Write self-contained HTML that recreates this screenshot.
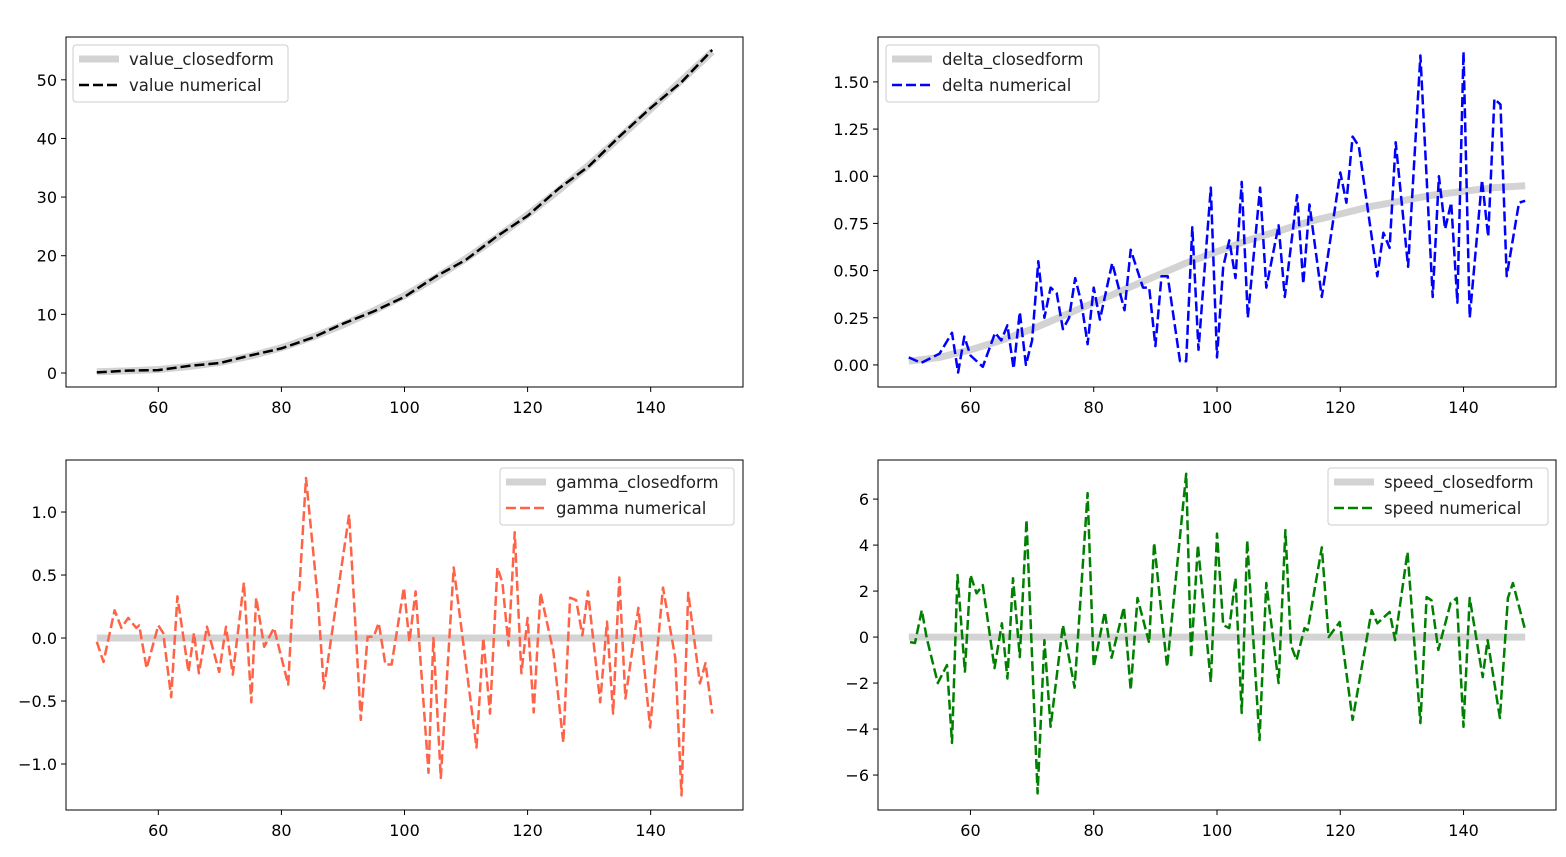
<!DOCTYPE html>
<html><head><meta charset="utf-8"><style>
body{margin:0;background:#fff;}
svg text{font-family:"DejaVu Sans","Liberation Sans",sans-serif;}
</style></head><body>
<svg id="fig" width="1566" height="852" xmlns="http://www.w3.org/2000/svg"></svg>
<script>
// ---------- data ----------
const valueX = [50,55,60,65,70,75,80,85,90,95,100,105,110,115,120,125,130,135,140,145,150];
const valueClosed = [0.2,0.35,0.6,1.1,1.8,2.9,4.3,6.1,8.2,10.6,13.2,16.2,19.5,23.1,27,31.1,35.5,40.2,45,49.9,54.8];
const valueNum = [0.1,0.4,0.5,1.2,1.7,3.0,4.2,6.0,8.4,10.5,13.0,16.4,19.3,23.3,26.8,31.4,35.3,40.4,45.2,49.6,55.1];

const deltaClosedX = [50,55,60,65,70,75,80,85,90,95,100,105,110,115,120,125,130,135,140,145,150];
const deltaClosed = [0.02,0.04,0.08,0.13,0.19,0.26,0.33,0.40,0.47,0.54,0.60,0.66,0.71,0.76,0.80,0.84,0.87,0.90,0.92,0.94,0.95];
const deltaX = [50,52,55,57,58,59,60,62,64,65,66,67,68,69,70,71,72,73,74,75,76,77,78,79,80,81,83,85,86,88,89,90,91,92,94,95,96,97,99,100,101,102,103,104,105,107,108,110,111,113,114,115,117,120,121,122,123,126,127,128,129,131,133,135,136,137,138,139,140,141,143,144,145,146,147,149,150];
const deltaNum = [0.04,0.01,0.06,0.17,-0.04,0.15,0.05,-0.01,0.17,0.13,0.21,-0.02,0.28,0.0,0.13,0.55,0.25,0.41,0.38,0.19,0.25,0.46,0.33,0.11,0.41,0.24,0.54,0.29,0.61,0.41,0.41,0.10,0.47,0.47,0.02,0.02,0.73,0.08,0.94,0.04,0.52,0.66,0.46,0.97,0.25,0.94,0.41,0.74,0.36,0.90,0.43,0.85,0.36,1.02,0.86,1.21,1.16,0.47,0.70,0.62,1.18,0.52,1.64,0.36,1.00,0.72,0.86,0.33,1.66,0.25,0.98,0.68,1.41,1.38,0.47,0.86,0.87];

const zeroX = [50,150];
const zeroY = [0,0];
const gammaX = [50,51.1,52.9,54,55.1,56.4,56.9,58.1,60,60.8,62.1,63.1,64.9,65.8,66.6,67.9,69.9,71,72.1,73.9,75.1,75.9,77.2,78.8,81.1,81.9,82.9,84,85.9,86.9,91,92.9,94,95,95.8,96.9,97.9,99.9,100.8,101.8,103.9,104.7,105.9,108,111.7,112.8,113.9,115.1,115.9,116.9,117.9,119,120,121,122.1,124.2,125.8,126.9,127.9,128.9,129.8,131.8,132.9,133.9,134.9,135.9,138,139.9,142,144,145,146.1,148,148.9,150];
const gammaNum = [-0.03,-0.19,0.22,0.08,0.16,0.08,0.10,-0.24,0.10,0.04,-0.47,0.33,-0.27,0.04,-0.28,0.09,-0.27,0.09,-0.29,0.44,-0.51,0.32,-0.07,0.08,-0.37,0.36,0.38,1.27,0.32,-0.40,0.98,-0.65,0.01,0.01,0.12,-0.21,-0.21,0.40,-0.03,0.37,-1.07,0.0,-1.11,0.56,-0.87,0.0,-0.60,0.56,0.44,-0.06,0.84,-0.28,0.16,-0.59,0.36,-0.11,-0.83,0.32,0.30,0.02,0.37,-0.51,0.13,-0.60,0.48,-0.48,0.24,-0.71,0.40,-0.16,-1.25,0.36,-0.36,-0.20,-0.60];

const speedX = [50.2,51,52.1,52.9,54.7,56.2,57,57.9,59.1,60,61,62,63.9,65.1,66,66.9,68,69.1,70.9,72,73,75,76.9,79,80,81.8,82.9,84.9,86,87.1,89,89.8,91.9,95,95.8,96.9,99,100,101,102,103,104,104.9,106.9,108,110,111.1,112,112.9,114.2,114.7,117,118.1,119.9,122,125.1,126,128,128.9,130.9,133,134,134.8,135.9,137.9,138.9,140,141,143.1,143.9,145.9,147.2,148,150];
const speedNum = [-0.22,-0.26,1.17,-0.04,-2.0,-1.22,-4.6,2.7,-1.5,2.7,1.9,2.26,-1.35,0.6,-1.8,2.56,-0.87,5.1,-6.8,-0.13,-3.9,0.52,-2.2,6.26,-1.3,1.09,-0.9,1.3,-2.3,1.7,-0.26,4.1,-1.3,7.1,-0.9,4.0,-1.96,4.5,0.52,0.39,2.56,-3.3,4.2,-4.48,2.35,-2.0,4.65,-0.35,-1.0,0.39,0.3,3.9,0.0,0.65,-3.6,1.17,0.6,1.09,-0.13,3.7,-3.74,1.74,1.6,-0.56,1.48,1.7,-3.9,1.7,-1.74,-0.13,-3.52,1.7,2.35,0.3];

const xTicks = [60,80,100,120,140];
const valueTicks = [0,10,20,30,40,50];
const deltaTicks = [0,0.25,0.5,0.75,1.0,1.25,1.5];
const gammaTicks = [-1.0,-0.5,0,0.5,1.0];
const speedTicks = [-6,-4,-2,0,2,4,6];

// ---------- drawing ----------
const NS='http://www.w3.org/2000/svg';
const svg=document.getElementById('fig');
function mk(tag,attrs,parent){const e=document.createElementNS(NS,tag);for(const k in attrs)e.setAttribute(k,attrs[k]);(parent||svg).appendChild(e);return e;}
function fmt(v,dec){let s=v.toFixed(dec);if(v<0)s='\u2212'+s.slice(1);return s;}

function panel(id,box,ylim,yt,dec,series,legend){
  const g=mk('g',{});
  
  
  const [L,T,R,B]=box;
  const sx=x=>L+(x-45)/110*(R-L);
  const sy=y=>B-(y-ylim[0])/(ylim[1]-ylim[0])*(B-T);
  const cp=mk('clipPath',{id:'clip-'+id},g);
  mk('rect',{x:L,y:T,width:R-L,height:B-T},cp);
  series.forEach(s=>{
    let d='';s.x.forEach((x,i)=>{d+=(i?'L':'M')+sx(x).toFixed(1)+','+sy(s.y[i]).toFixed(1);});
    const p=mk('path',{d:d,fill:'none',stroke:s.color,'stroke-width':s.w,'clip-path':'url(#clip-'+id+')','stroke-linejoin':'round'},g);
    if(s.dash)p.setAttribute('stroke-dasharray',s.dash);
    
    
  });
  const fr=mk('rect',{x:L,y:T,width:R-L,height:B-T,fill:'none',stroke:'#000','stroke-width':1},g);
  
  
  xTicks.forEach(t=>{
    const x=sx(t);
    mk('line',{x1:x,y1:B,x2:x,y2:B+5,stroke:'#000'},g);
    const tx=mk('text',{x:x,y:B+26,'font-size':16,'text-anchor':'middle',fill:'#000'},g);
    tx.textContent=String(t);
    
    
  });
  yt.forEach(t=>{
    const y=sy(t);
    mk('line',{x1:L-5,y1:y,x2:L,y2:y,stroke:'#000'},g);
    const tx=mk('text',{x:L-9,y:y+6,'font-size':16,'text-anchor':'end',fill:'#000'},g);
    tx.textContent=fmt(t,dec);
    
    
  });
  const [lx,ly,lw]=legend;
  const lg=mk('g',{},g);
  
  
  mk('rect',{x:lx,y:ly,width:lw,height:57,rx:3,fill:'#fff','fill-opacity':0.8,stroke:'#ccc'},lg);
  series.forEach((s,i)=>{
    const yy=ly+14+i*26;
    const l=mk('line',{x1:lx+6,y1:yy,x2:lx+46,y2:yy,stroke:s.color,'stroke-width':s.w},lg);
    if(s.dash)l.setAttribute('stroke-dasharray',s.dash);
    const tx=mk('text',{x:lx+56,y:yy+6,'font-size':16.5,fill:'#222'},lg);
    tx.textContent=s.label;
    
    
  });
}
const gray='#d3d3d3', dash='10,4';
panel('value',[66,37,743,387],[-2.39,57.3],valueTicks,0,[
  {x:valueX,y:valueClosed,color:gray,w:7,label:'value_closedform',name:'value-closedform-line'},
  {x:valueX,y:valueNum,color:'#000',w:2.5,dash:dash,label:'value numerical',name:'value-numerical-line'}],[73,45,215]);
panel('delta',[878,37,1556,387],[-0.117,1.738],deltaTicks,2,[
  {x:deltaClosedX,y:deltaClosed,color:gray,w:7,label:'delta_closedform',name:'delta-closedform-line'},
  {x:deltaX,y:deltaNum,color:'#0000ff',w:2.5,dash:dash,label:'delta numerical',name:'delta-numerical-line'}],[886,45,213]);
panel('gamma',[66,460,743,810],[-1.365,1.413],gammaTicks,1,[
  {x:zeroX,y:zeroY,color:gray,w:7,label:'gamma_closedform',name:'gamma-closedform-line'},
  {x:gammaX,y:gammaNum,color:'#ff6347',w:2.5,dash:dash,label:'gamma numerical',name:'gamma-numerical-line'}],[500,468,234]);
panel('speed',[878,460,1556,810],[-7.52,7.70],speedTicks,0,[
  {x:zeroX,y:zeroY,color:gray,w:7,label:'speed_closedform',name:'speed-closedform-line'},
  {x:speedX,y:speedNum,color:'#008000',w:2.5,dash:dash,label:'speed numerical',name:'speed-numerical-line'}],[1328,468,220]);
</script>
</body></html>
